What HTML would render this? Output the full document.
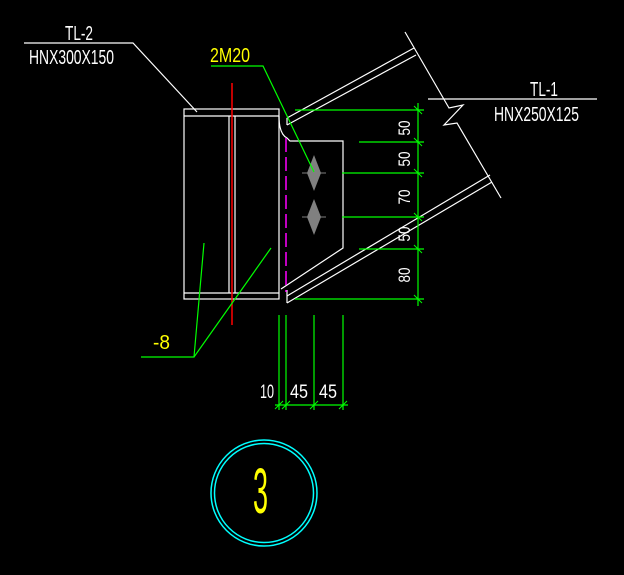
<!DOCTYPE html>
<html><head><style>html,body{margin:0;padding:0;background:#000;}svg{display:block}</style></head>
<body>
<svg width="624" height="575" viewBox="0 0 624 575" xmlns="http://www.w3.org/2000/svg" font-family="Liberation Sans, sans-serif">
<rect width="624" height="575" fill="#000"/>
<g stroke="#fff" stroke-width="1.2" fill="none">
  <rect x="184" y="109" width="95" height="190"/>
  <line x1="184" y1="116" x2="279" y2="116"/>
  <line x1="184" y1="293" x2="279" y2="293"/>
  <line x1="229" y1="116" x2="229" y2="293"/>
  <line x1="235" y1="116" x2="235" y2="293"/>
  <polyline points="24,43 133,43 197,112"/>
  <path d="M279,116 Q279,134 287,138 L290,141 L343,141 L343,248 L281,289"/>
  <line x1="287" y1="118" x2="414" y2="48"/>
  <line x1="287" y1="125" x2="416" y2="55"/>
  <line x1="287" y1="118" x2="287" y2="125"/>
  <line x1="287" y1="296" x2="490" y2="175"/>
  <line x1="287" y1="303" x2="492" y2="182"/>
  <line x1="287" y1="290" x2="287" y2="303"/>
  <polyline points="405,32 449,108 463,105 444,125 457,123 501,198"/>
  <line x1="428" y1="99" x2="597" y2="99"/>
</g>
<line x1="232" y1="83" x2="232" y2="325" stroke="#f00" stroke-width="1.5"/>
<line x1="286" y1="138" x2="286" y2="292" stroke="#f0f" stroke-width="1.5" stroke-dasharray="14,5"/>
<g fill="#808080">
  <polygon points="314,155 321,173 314,191 307,173"/>
  <polygon points="314,199 321,217 314,235 307,217"/>
</g>
<g stroke="#808080" stroke-width="1">
  <line x1="302" y1="173" x2="326" y2="173"/><line x1="302" y1="217" x2="326" y2="217"/>
</g>
<g stroke="#0f0" stroke-width="1.2" fill="none">
  <line x1="418" y1="103" x2="418" y2="306"/>
  <line x1="295" y1="110" x2="424" y2="110"/>
  <line x1="359" y1="142" x2="424" y2="142"/>
  <line x1="342" y1="173" x2="424" y2="173"/>
  <line x1="342" y1="217" x2="424" y2="217"/>
  <line x1="359" y1="249" x2="424" y2="249"/>
  <line x1="295" y1="299" x2="424" y2="299"/>
  <g stroke-width="1">
  <line x1="414" y1="106" x2="422" y2="114"/><line x1="414" y1="138" x2="422" y2="146"/>
  <line x1="414" y1="169" x2="422" y2="177"/><line x1="414" y1="213" x2="422" y2="221"/>
  <line x1="414" y1="245" x2="422" y2="253"/><line x1="414" y1="295" x2="422" y2="303"/>
  </g>
  <polyline points="211,66 263,66 314,172"/>
  <polyline points="141,357 194,357 204,243"/>
  <line x1="194" y1="357" x2="271" y2="248"/>
  <line x1="279" y1="315" x2="279" y2="410"/>
  <line x1="286" y1="315" x2="286" y2="410"/>
  <line x1="314" y1="315" x2="314" y2="410"/>
  <line x1="343" y1="315" x2="343" y2="410"/>
  <line x1="275" y1="405" x2="348" y2="405"/>
  <g stroke-width="1">
  <line x1="275" y1="409" x2="283" y2="401"/><line x1="282" y1="409" x2="290" y2="401"/>
  <line x1="310" y1="409" x2="318" y2="401"/><line x1="339" y1="409" x2="347" y2="401"/>
  </g>
</g>
<circle cx="264" cy="493" r="53" stroke="#0ff" stroke-width="1.5" fill="none"/>
<circle cx="264" cy="493" r="49.5" stroke="#0ff" stroke-width="1.5" fill="none"/>
<g fill="#fff" font-size="20">
  <text x="65" y="40" textLength="28" lengthAdjust="spacingAndGlyphs">TL-2</text>
  <text x="29" y="64" textLength="85" lengthAdjust="spacingAndGlyphs">HNX300X150</text>
  <text x="530" y="96" textLength="28" lengthAdjust="spacingAndGlyphs">TL-1</text>
  <text x="494" y="121" textLength="85" lengthAdjust="spacingAndGlyphs">HNX250X125</text>
  <text x="260" y="398" font-size="19" textLength="14" lengthAdjust="spacingAndGlyphs">10</text>
  <text x="290" y="398" font-size="19" textLength="18" lengthAdjust="spacingAndGlyphs">45</text>
  <text x="319" y="398" font-size="19" textLength="18" lengthAdjust="spacingAndGlyphs">45</text>
  <g font-size="17">
    <text transform="translate(410,128) rotate(-90)" text-anchor="middle" textLength="15" lengthAdjust="spacingAndGlyphs">50</text>
    <text transform="translate(410,159) rotate(-90)" text-anchor="middle" textLength="15" lengthAdjust="spacingAndGlyphs">50</text>
    <text transform="translate(410,197) rotate(-90)" text-anchor="middle" textLength="15" lengthAdjust="spacingAndGlyphs">70</text>
    <text transform="translate(410,234) rotate(-90)" text-anchor="middle" textLength="15" lengthAdjust="spacingAndGlyphs">50</text>
    <text transform="translate(410,275) rotate(-90)" text-anchor="middle" textLength="15" lengthAdjust="spacingAndGlyphs">80</text>
  </g>
</g>
<g fill="#ff0">
  <text x="210" y="62" font-size="20" textLength="40" lengthAdjust="spacingAndGlyphs">2M20</text>
  <text x="153" y="349" font-size="20" textLength="17" lengthAdjust="spacingAndGlyphs">-8</text>
  <text x="253" y="513" font-size="64" textLength="15" lengthAdjust="spacingAndGlyphs">3</text>
</g>
</svg>
</body></html>
